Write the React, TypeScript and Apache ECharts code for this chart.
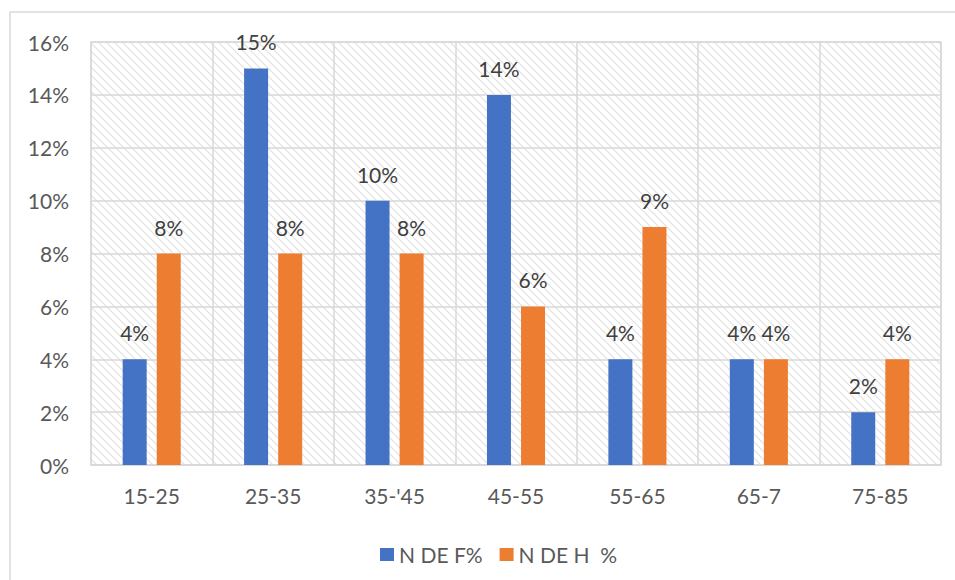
import React, { useEffect, useRef } from "react";
import * as echarts from "echarts";

// Age bands and the share of women (F) and men (H) in each band, in percent
const ageBands = ["15-25", "25-35", "35-'45", "45-55", "55-65", "65-7", "75-85"];
const womenShare = [4, 15, 10, 14, 4, 4, 2];
const menShare = [8, 8, 8, 6, 9, 4, 4];
const seriesNames = ["N DE F%", "N DE H  %"];

const FONT = "Lato, 'Open Sans', sans-serif";
const GRID_LINE = "#d9d9d9";

// Diagonal hatch tile used as the plot-area background
const hatchSvg =
  "<svg xmlns='http://www.w3.org/2000/svg' width='8' height='8'>" +
  "<path d='M-1,-1 L9,9 M-1,7 L1,9 M7,-1 L9,1' stroke='#e0e0e0' stroke-width='1.1' fill='none'/></svg>";
const hatchUrl = "data:image/svg+xml;charset=utf-8," + encodeURIComponent(hatchSvg);

export default function App() {
  const ref = useRef<HTMLDivElement>(null);

  useEffect(() => {
    if (!ref.current) return;
    const chart = echarts.init(ref.current, undefined, { renderer: "svg" });

    const labelCfg = {
      show: true,
      position: "top" as const,
      distance: 16,
      formatter: "{c}%",
      color: "#404040",
      fontSize: 21,
      fontFamily: FONT,
    };

    chart.setOption({
      animation: false,
      backgroundColor: "#ffffff",
      textStyle: { fontFamily: FONT },
      graphic: [
        {
          type: "rect",
          shape: { x: 10, y: 12, width: 1000, height: 1000 },
          style: { fill: "none", stroke: GRID_LINE, lineWidth: 1.5 },
          silent: true,
          z: -10,
        },
      ],
      grid: {
        left: 91,
        right: 14,
        top: 42,
        bottom: 115,
        show: true,
        borderColor: GRID_LINE,
        borderWidth: 1.5,
        backgroundColor: {
          image: hatchUrl,
          repeat: "repeat",
          imageWidth: 8,
          imageHeight: 8,
        },
      },
      legend: {
        data: seriesNames,
        left: 375,
        top: 539,
        icon: "rect",
        itemWidth: 14,
        itemHeight: 13,
        itemGap: 17,
        textStyle: { fontSize: 21, color: "#595959", fontFamily: FONT },
      },
      xAxis: {
        type: "category",
        data: ageBands,
        axisLine: { show: true, lineStyle: { color: GRID_LINE, width: 1.5 } },
        axisTick: { show: false },
        axisLabel: { color: "#595959", fontSize: 21, fontFamily: FONT, margin: 20 },
        splitLine: { show: true, lineStyle: { color: GRID_LINE, width: 1.5 } },
      },
      yAxis: {
        type: "value",
        min: 0,
        max: 16,
        interval: 2,
        axisLine: { show: false },
        axisTick: { show: false },
        axisLabel: {
          formatter: "{value}%",
          color: "#595959",
          fontSize: 21,
          fontFamily: FONT,
          margin: 22,
        },
        splitLine: { show: true, lineStyle: { color: GRID_LINE, width: 1.5 } },
      },
      series: [
        {
          name: seriesNames[0],
          type: "bar",
          data: womenShare,
          itemStyle: { color: "#4472c4" },
          barWidth: 24,
          barGap: "42%",
          label: labelCfg,
        },
        {
          name: seriesNames[1],
          type: "bar",
          data: menShare,
          itemStyle: { color: "#ed7d31" },
          barWidth: 24,
          label: labelCfg,
        },
      ],
    });

    return () => chart.dispose();
  }, []);

  return (
    <div
      ref={ref}
      style={{ position: "fixed", left: 0, top: 0, width: 955, height: 580 }}
    />
  );
}
